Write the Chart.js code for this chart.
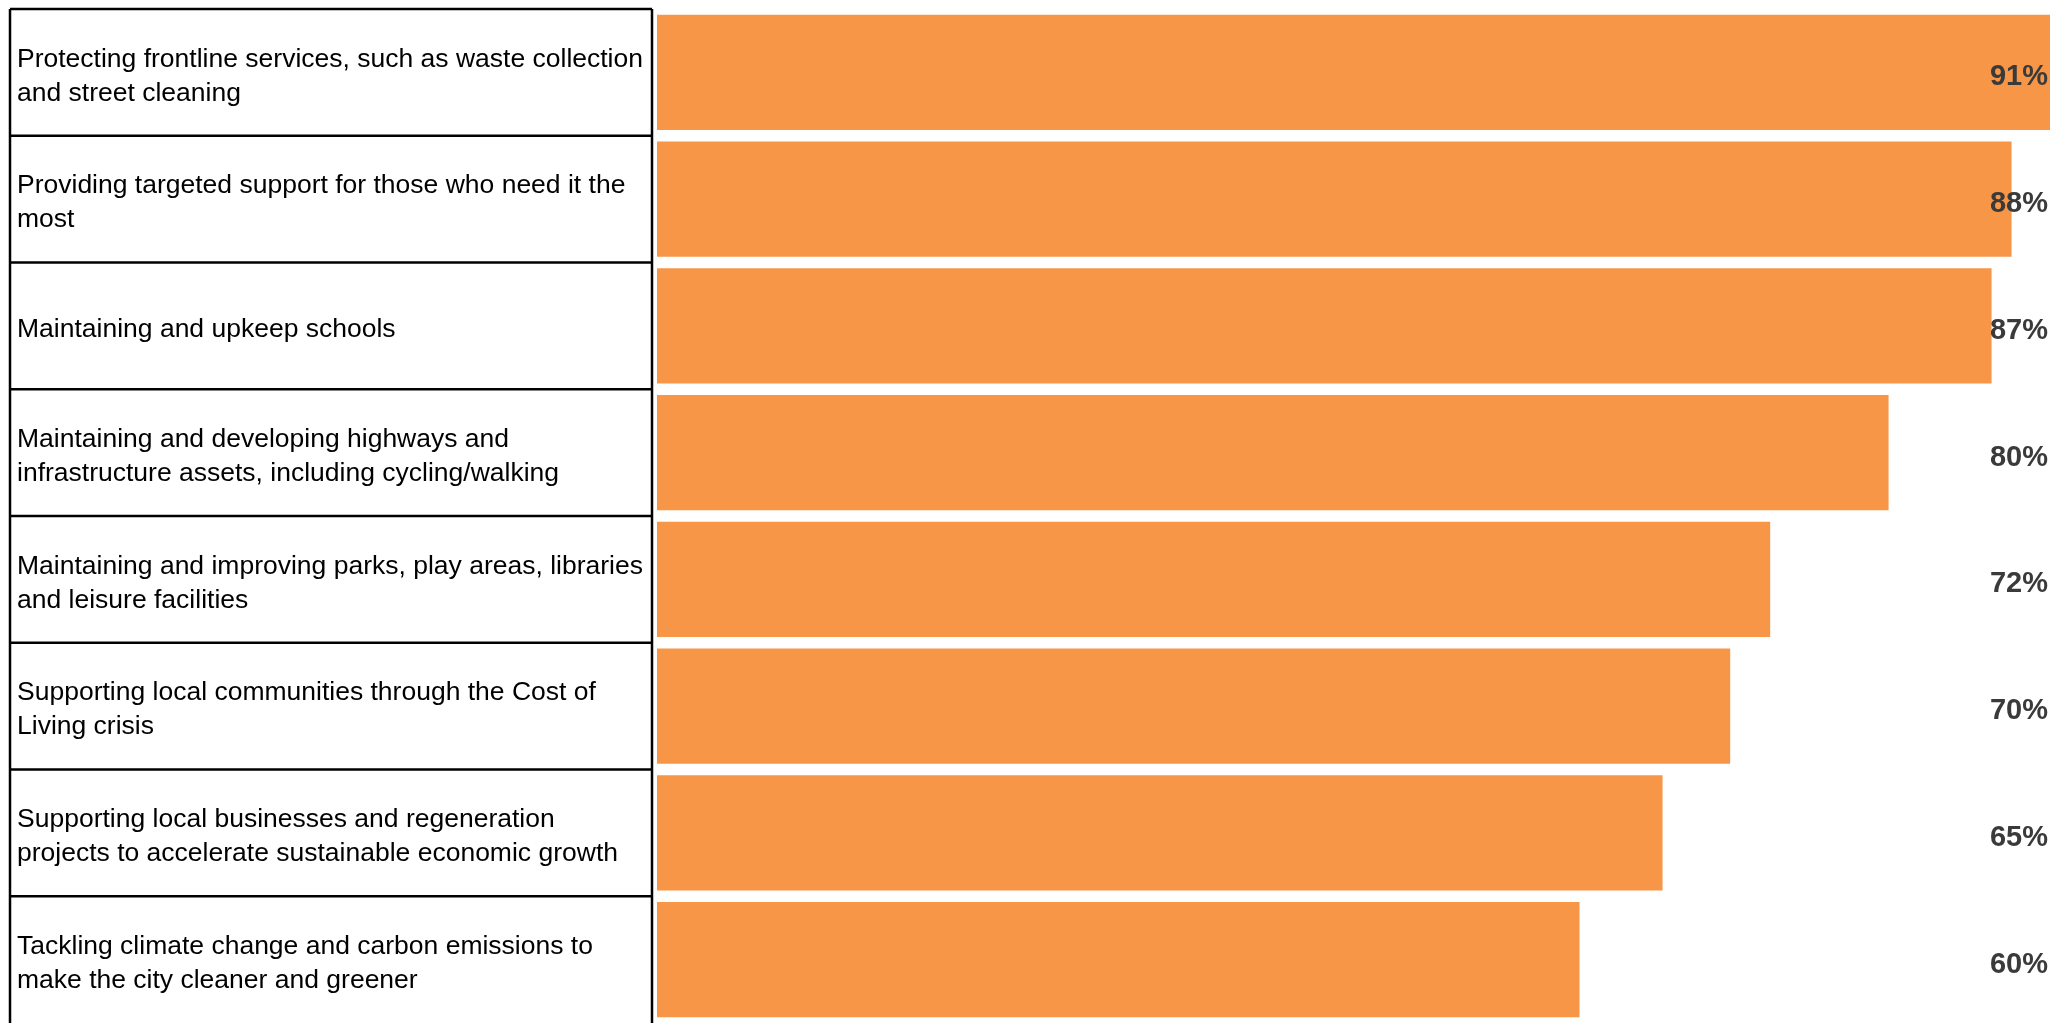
<!DOCTYPE html>
<html>
<head>
<meta charset="utf-8">
<script src="https://cdn.jsdelivr.net/npm/chart.js@4/dist/chart.umd.min.js"></script>
<style>
    body { margin: 0; background: #ffffff; }
    #wrap { width: 2053px; height: 1023px; position: relative; }
</style>
</head>
<body>
<div id="wrap"><canvas id="priorityChart"></canvas></div>
<script>
const categories = [
    ['Protecting frontline services, such as waste collection', 'and street cleaning'],
    ['Providing targeted support for those who need it the', 'most'],
    ['Maintaining and upkeep schools'],
    ['Maintaining and developing highways and', 'infrastructure assets, including cycling/walking'],
    ['Maintaining and improving parks, play areas, libraries', 'and leisure facilities'],
    ['Supporting local communities through the Cost of', 'Living crisis'],
    ['Supporting local businesses and regeneration', 'projects to accelerate sustainable economic growth'],
    ['Tackling climate change and carbon emissions to', 'make the city cleaner and greener']
];
// bar lengths; labels show them rounded
const percentages = [90.6, 88.1, 86.8, 80.1, 72.4, 69.8, 65.4, 60.0];
const valueLabels = percentages.map(v => Math.round(v) + '%');

document.addEventListener("DOMContentLoaded", function () {
    const ctx = document.getElementById('priorityChart').getContext('2d');

    // table of labels on the left: border and row lines
    const labelTable = {
        id: 'labelTable',
        afterDraw(chart) {
            const y = chart.scales.y;
            const c = chart.ctx;
            const half = (y.getPixelForValue(1) - y.getPixelForValue(0)) / 2;
            const top = y.getPixelForValue(0) - half;
            const bottom = y.getPixelForValue(categories.length - 1) + half;
            c.save();
            c.strokeStyle = '#000000';
            c.lineWidth = 2.5;
            c.beginPath();
            c.moveTo(10, top);
            c.lineTo(10, bottom);
            c.moveTo(652, top);
            c.lineTo(652, bottom);
            for (let i = 0; i < categories.length; i++) {
                const yy = y.getPixelForValue(i) - half;
                c.moveTo(10, yy);
                c.lineTo(652, yy);
            }
            c.stroke();

            // percentage labels at the right edge
            c.fillStyle = '#3a3a3a';
            c.font = 'bold 29px "Liberation Sans", Arial, sans-serif';
            c.textAlign = 'right';
            c.textBaseline = 'middle';
            const xr = chart.chartArea.right - 2;
            valueLabels.forEach((t, i) => {
                c.fillText(t, xr, y.getPixelForValue(i) + 5);
            });
            c.restore();
        }
    };

    new Chart(ctx, {
        type: 'bar',
        data: {
            labels: categories,
            datasets: [{
                data: percentages,
                backgroundColor: '#F79646',
                borderWidth: 0,
                barPercentage: 0.91,
                categoryPercentage: 1.0
            }]
        },
        options: {
            indexAxis: 'y',
            responsive: true,
            maintainAspectRatio: false,
            animation: false,
            layout: { padding: { top: 9, left: 17, right: 3, bottom: 0 } },
            plugins: {
                legend: { display: false },
                tooltip: { enabled: false }
            },
            scales: {
                x: {
                    display: false,
                    min: 0,
                    max: 90.6
                },
                y: {
                    grid: { display: false },
                    border: { display: false },
                    afterFit: function (axis) {
                        axis.width = 640;
                        axis.paddingTop = 0;
                        axis.paddingBottom = 0;
                    },
                    ticks: {
                        crossAlign: 'far',
                        padding: 0,
                        labelOffset: 4,
                        color: '#000000',
                        font: { family: '"Liberation Sans", Arial, sans-serif', size: 26.5, lineHeight: 1.28 }
                    }
                }
            }
        },
        plugins: [labelTable]
    });
});
</script>
</body>
</html>
